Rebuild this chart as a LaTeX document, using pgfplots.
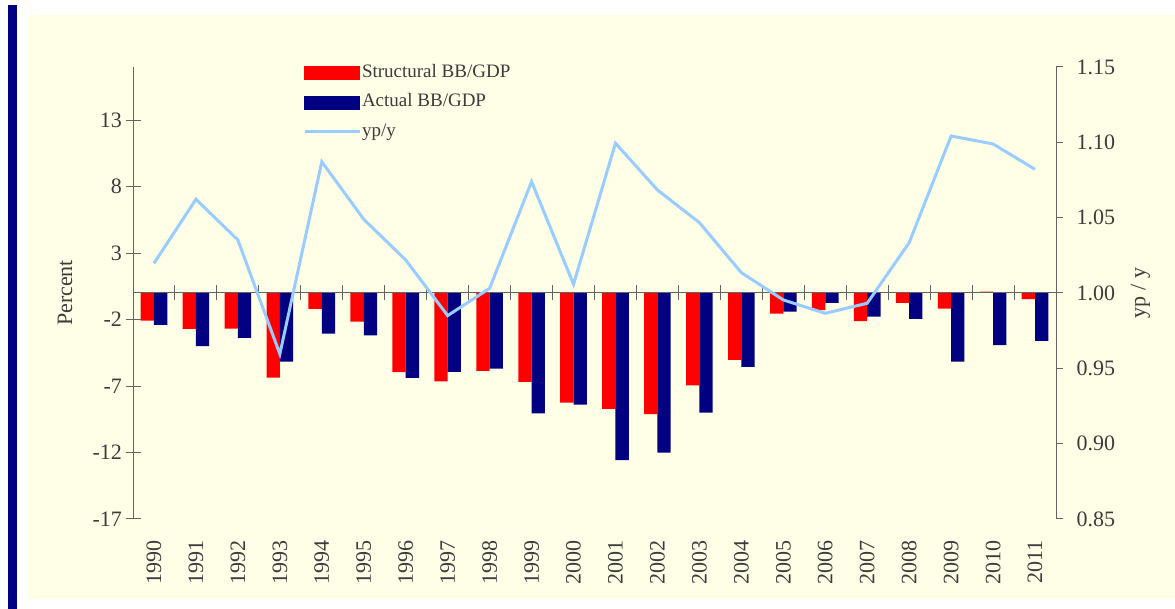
\documentclass[border=0pt]{standalone}
\usepackage{fontspec}
\setmainfont{Liberation Serif}
\usepackage{pgfplots}
\usepackage{pgfplotstable}
\pgfplotsset{compat=1.18}
\definecolor{cream}{RGB}{255,255,232}
\definecolor{navyc}{RGB}{0,0,128}
\definecolor{linec}{RGB}{153,204,255}
\definecolor{txt}{RGB}{60,60,60}
\definecolor{axc}{RGB}{100,100,100}

\pgfplotstableread{
x s a r
0 -2.08 -2.40 1.0197
1 -2.70 -4.00 1.0622
2 -2.68 -3.38 1.0352
3 -6.37 -5.16 0.9595
4 -1.20 -3.06 1.0871
5 -2.16 -3.18 1.0489
6 -5.96 -6.39 1.0219
7 -6.64 -5.94 0.9850
8 -5.86 -5.69 1.0031
9 -6.69 -9.05 1.0739
10 -8.25 -8.40 1.0058
11 -8.72 -12.58 1.0994
12 -9.12 -12.00 1.0684
13 -6.94 -9.00 1.0467
14 -5.03 -5.56 1.0135
15 -1.55 -1.40 0.9954
16 -1.28 -0.75 0.9865
17 -2.12 -1.77 0.9932
18 -0.75 -1.95 1.0334
19 -1.17 -5.16 1.1042
20 0.10 -3.92 1.0989
21 -0.47 -3.60 1.0821
}\data

\pgfplotsset{
  common/.style={scale only axis, width=923pt, height=452pt,
    at={(133pt,90pt)}, anchor=south west,
    xmin=-0.5, xmax=21.5,
    axis line style={axc, line width=1pt, -},
    every tick/.style={axc, line width=1pt},
    tick label style={font=\fontsize{22}{26}\selectfont, text=txt},
    label style={font=\fontsize{22}{26}\selectfont, text=txt},
    /pgf/number format/assume math mode=true},
  redleg/.style={legend image code/.code={\fill[red] (0pt,-6.5pt) rectangle (55pt,6.5pt);}},
  navyleg/.style={legend image code/.code={\fill[navyc] (0pt,-6.5pt) rectangle (55pt,6.5pt);}},
  lineleg/.style={legend image code/.code={\draw[linec,line width=3pt] (0pt,0pt) -- (55pt,0pt);}},
}

\begin{document}
\begin{tikzpicture}
\useasboundingbox (0,0) rectangle (1175pt,609pt);
\fill[white] (0,0) rectangle (1175pt,609pt);
\fill[cream] (27pt,10pt) rectangle (1175pt,594pt);
\fill[navyc] (8pt,0pt) rectangle (17pt,604pt);

\begin{axis}[common, axis on top,
  axis y line*=left, axis x line*=middle,
  ymin=-17, ymax=17, ytick={-17,-12,-7,-2,3,8,13},
  xtick={-0.5,0.5,...,21.5}, xticklabels={},
  tick align=center, major tick length=15pt,
  ylabel={Percent},
  ylabel style={at={(axis description cs:-0.0737,0.5)}, anchor=center}]
\addplot[ybar, bar width=13.3pt, bar shift=-6.65pt, fill=red, draw=none] table[x=x,y=s]{\data};
\addplot[ybar, bar width=13.3pt, bar shift=6.65pt, fill=navyc, draw=none] table[x=x,y=a]{\data};
\end{axis}

\begin{axis}[common,
  axis y line*=right, axis x line*=bottom,
  x axis line style={draw=none},
  xtick={0,...,21},
  xticklabels={1990,1991,1992,1993,1994,1995,1996,1997,1998,1999,2000,2001,2002,2003,2004,2005,2006,2007,2008,2009,2010,2011},
  xtick style={draw=none},
  x tick label style={yshift=-11pt, rotate=90, anchor=east},
  ymin=0.85, ymax=1.15,
  ytick={0.85,0.90,0.95,1.00,1.05,1.10,1.15},
  yticklabel style={xshift=10pt, /pgf/number format/.cd, fixed, fixed zerofill, precision=2},
  tick align=outside, major tick length=7pt,
  ylabel={yp / y},
  ylabel style={at={(axis description cs:1.0915,0.5)}, anchor=center},
  legend style={draw=none, fill=none, at={(0.1842,1.006)}, anchor=north west,
    inner sep=0pt, outer sep=0pt, font=\fontsize{19}{22}\selectfont, text=txt,
    row sep=12.5pt, column sep=1pt,
    nodes={inner sep=0pt, text height=13pt, text depth=4pt}},
  legend cell align=left]
\addlegendimage{redleg}
\addlegendentry{Structural BB/GDP}
\addlegendimage{navyleg}
\addlegendentry{Actual BB/GDP}
\addplot[linec, line width=3pt, lineleg] table[x=x,y=r]{\data};
\addlegendentry{yp/y}
\end{axis}
\end{tikzpicture}
\end{document}
